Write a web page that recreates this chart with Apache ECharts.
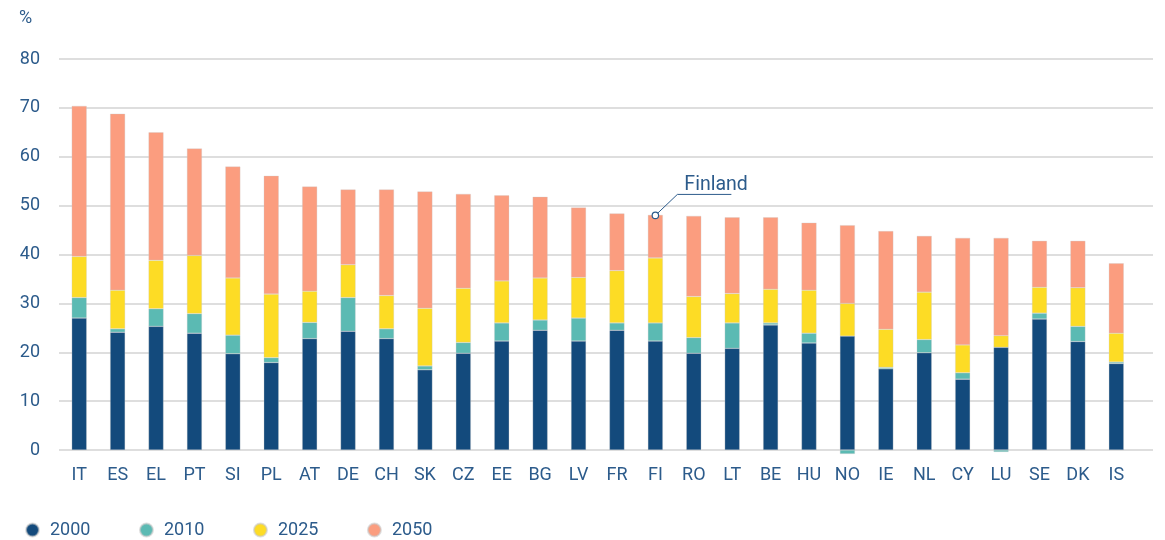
<!DOCTYPE html>
<html><head><meta charset="utf-8">
<script src="https://cdn.jsdelivr.net/npm/echarts@6/dist/echarts.min.js"></script>
<style>html,body{margin:0;padding:0;background:#fff}#c{width:1165px;height:540px}</style>
</head><body><div id="c"></div>
<script>
const categories = ['IT','ES','EL','PT','SI','PL','AT','DE','CH','SK','CZ','EE','BG','LV','FR','FI','RO','LT','BE','HU','NO','IE','NL','CY','LU','SE','DK','IS'];
const seriesNames = ['2000','2010','2025','2050'];
// stacked segment values (percentage points)
const v2000 = [27.0,24.1,25.3,23.9,19.7,17.9,22.8,24.3,22.8,16.4,19.8,22.3,24.5,22.3,24.5,22.3,19.8,20.8,25.6,21.9,23.3,16.6,19.9,14.5,21.0,26.8,22.2,17.7];
const v2010 = [4.2,0.7,3.6,4.0,3.8,1.0,3.3,6.9,2.0,0.8,2.2,3.7,2.1,4.7,1.5,3.7,3.2,5.2,0.4,2.0,-0.8,0.3,2.7,1.3,-0.4,1.2,3.1,0.3];
const v2025 = [8.4,7.9,9.9,11.9,11.7,13.0,6.4,6.7,6.8,11.8,11.1,8.6,8.6,8.3,10.7,13.3,8.4,6.0,6.9,8.8,6.7,7.8,9.7,5.7,2.4,5.3,7.9,5.9];
const v2050 = [30.8,36.1,26.2,21.9,22.8,24.2,21.4,15.4,21.7,23.9,19.3,17.5,16.6,14.3,11.7,8.8,16.5,15.6,14.7,13.8,16.0,20.1,11.5,21.9,20.0,9.5,9.6,14.3];
const yTicks = [0,10,20,30,40,50,60,70,80];
const annotation = {category:'FI', text:'Finland'};

const colors = ['#134a7c','#5bbab3','#fddc25','#fb9d7f'];
const txt = '#2c5b8b';
const allData = [v2000,v2010,v2025,v2050];
const yMin = yTicks[0], yMax = yTicks[yTicks.length-1];

const chart = echarts.init(document.getElementById('c'));
chart.setOption({
  animation:false,
  textStyle:{fontFamily:'Roboto'},
  title:{text:'%',left:19,top:9,padding:0,textStyle:{fontSize:18,fontWeight:'normal',color:txt,fontFamily:'Roboto'}},
  grid:[
    {left:60,right:29.5,top:59,bottom:90},
    {left:59,right:12,top:59,bottom:90}
  ],
  legend:{left:25,top:521,padding:0,icon:'circle',itemWidth:13,itemHeight:13,itemGap:48.5,
    textStyle:{fontSize:18,color:txt,fontFamily:'Roboto',padding:[0,0,0,6]},
    data:seriesNames},
  xAxis:[
    {type:'category',data:categories,gridIndex:0,
      axisLine:{show:false},axisTick:{show:false},
      axisLabel:{fontSize:18,color:txt,margin:16,fontFamily:'Roboto'}},
    {type:'category',data:categories,gridIndex:1,show:false}
  ],
  yAxis:[
    {type:'value',gridIndex:0,min:yMin,max:yMax,interval:10,show:false,splitLine:{show:false}},
    {type:'value',gridIndex:1,min:yMin,max:yMax,interval:10,
      axisLabel:{fontSize:18,color:txt,margin:19,fontFamily:'Roboto'},
      splitLine:{lineStyle:{color:'#d3d3d3',width:1.5}}}
  ],
  series: seriesNames.map((n,i)=>({
    name:n,type:'bar',stack:'t',barWidth:15,clip:false,xAxisIndex:0,yAxisIndex:0,z:5,
    itemStyle:{color:colors[i],borderColor:'rgba(200,200,200,0.6)',borderWidth:0.5},
    data:allData[i]
  }))
});

const idx = categories.indexOf(annotation.category);
let total = 0; allData.forEach(a=>{ if(a[idx]>0) total+=a[idx]; });
const p = chart.convertToPixel({xAxisIndex:0,yAxisIndex:0},[annotation.category,total]);
const cx = p[0], cy = p[1]+0.5;
chart.setOption({graphic:[
  {type:'polyline',shape:{points:[[cx,cy],[cx+22,cy-21],[cx+76,cy-21]]},style:{stroke:'#2c5b8b',lineWidth:1,fill:null},z:100},
  {type:'circle',shape:{cx:cx,cy:cy,r:3.2},style:{fill:'#fff',stroke:'#2c5b8b',lineWidth:1.2},z:101},
  {type:'text',x:cx+29,y:cy-30,style:{text:annotation.text,fontSize:19.5,fill:txt,fontFamily:'Roboto',textVerticalAlign:'middle'},z:101}
]});
</script></body></html>
